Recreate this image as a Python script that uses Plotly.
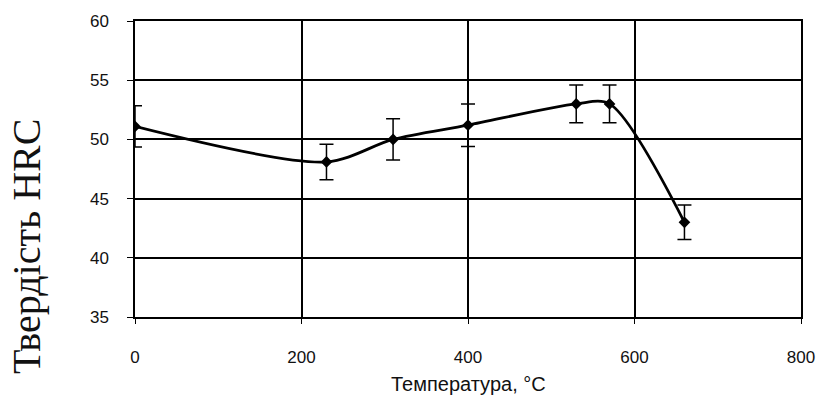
import plotly.graph_objects as go

temps = [0, 230, 310, 400, 530, 570, 660]
hrc = [51.1, 48.1, 50.0, 51.2, 53.0, 53.0, 43.0]
err = [1.75, 1.5, 1.75, 1.8, 1.6, 1.6, 1.45]
x_ticks = [0, 200, 400, 600, 800]
y_ticks = [35, 40, 45, 50, 55, 60]
x_title = "Температура, °C"
y_title = "Твердість HRC"

fig = go.Figure()
fig.add_trace(go.Scatter(
    x=temps, y=hrc, mode="lines+markers",
    line=dict(color="black", width=2.8, shape="spline", smoothing=0.85),
    marker=dict(symbol="diamond", size=9, color="black"),
    error_y=dict(type="data", array=err, visible=True, color="black",
                 thickness=1.5, width=7),
    showlegend=False,
))

axis_common = dict(showline=True, linecolor="black", linewidth=1.5, mirror=True,
                   showgrid=True, gridcolor="black", gridwidth=1.5,
                   zeroline=False, ticks="outside", tickcolor="black",
                   tickfont=dict(family="Liberation Sans, Arial", size=17, color="#111"))

fig.update_layout(
    width=827, height=405,
    margin=dict(l=135, r=26, t=17, b=88),
    paper_bgcolor="white", plot_bgcolor="white",
    xaxis=dict(range=[0, 800], tickvals=x_ticks, ticklen=5, ticklabelstandoff=19,
               **axis_common),
    yaxis=dict(range=[35, 60], tickvals=y_ticks, ticklen=6, ticklabelstandoff=15,
               **axis_common),
    annotations=[
        dict(text=x_title, xref="paper", yref="paper", x=0.5, y=-0.227,
             xanchor="center", yanchor="middle", showarrow=False,
             font=dict(family="Liberation Sans, Arial", size=20, color="#111")),
        dict(text=y_title, xref="paper", yref="paper", x=-0.162, y=0.24,
             xanchor="center", yanchor="middle", showarrow=False, textangle=-90,
             font=dict(family="Liberation Serif, Times New Roman", size=40, color="#111")),
    ],
)

fig.write_html("out.html")
